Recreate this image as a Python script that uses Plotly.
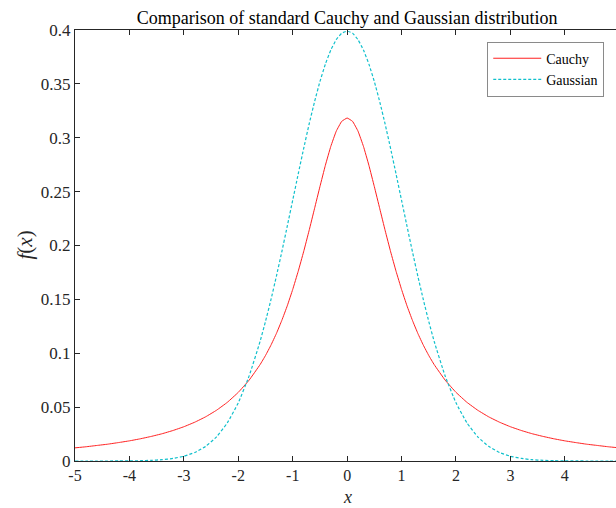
import plotly.graph_objects as go

x_vals = [-5.0, -4.8, -4.6, -4.4, -4.2, -4.0, -3.8, -3.6, -3.4, -3.2, -3.0,
          -2.8, -2.6, -2.4, -2.2, -2.0, -1.8,
          -1.6, -1.5, -1.4, -1.3, -1.2, -1.1, -1.0, -0.9, -0.8, -0.7, -0.6, -0.5,
          -0.4, -0.3, -0.2, -0.1, 0.0, 0.1, 0.2, 0.3, 0.4, 0.5, 0.6, 0.7,
          0.8, 0.9, 1.0, 1.1, 1.2, 1.3, 1.4, 1.5, 1.6,
          1.8, 2.0, 2.2, 2.4, 2.6, 2.8, 3.0,
          3.2, 3.4, 3.6, 3.8, 4.0, 4.2, 4.4, 4.6, 4.8, 5.0]

cauchy = [0.0122, 0.0132, 0.0144, 0.0156, 0.0171, 0.0187, 0.0206, 0.0228, 0.0253, 0.0283, 0.0318,
          0.0360, 0.0410, 0.0471, 0.0545, 0.0637, 0.0751,
          0.0894, 0.0979, 0.1075, 0.1183, 0.1305, 0.1440, 0.1592, 0.1759, 0.1941, 0.2136, 0.2341, 0.2546,
          0.2744, 0.2920, 0.3061, 0.3152, 0.3183, 0.3152, 0.3061, 0.2920, 0.2744, 0.2546, 0.2341, 0.2136,
          0.1941, 0.1759, 0.1592, 0.1440, 0.1305, 0.1183, 0.1075, 0.0979, 0.0894,
          0.0751, 0.0637, 0.0545, 0.0471, 0.0410, 0.0360, 0.0318,
          0.0283, 0.0253, 0.0228, 0.0206, 0.0187, 0.0171, 0.0156, 0.0144, 0.0132, 0.0122]

gaussian = [0.0000, 0.0000, 0.0000, 0.0000, 0.0001, 0.0001, 0.0003, 0.0006, 0.0012, 0.0024, 0.0044,
            0.0079, 0.0136, 0.0224, 0.0355, 0.0540, 0.0790,
            0.1109, 0.1295, 0.1497, 0.1714, 0.1942, 0.2179, 0.2420, 0.2661, 0.2897, 0.3123, 0.3332, 0.3521,
            0.3683, 0.3814, 0.3910, 0.3970, 0.3989, 0.3970, 0.3910, 0.3814, 0.3683, 0.3521, 0.3332, 0.3123,
            0.2897, 0.2661, 0.2420, 0.2179, 0.1942, 0.1714, 0.1497, 0.1295, 0.1109,
            0.0790, 0.0540, 0.0355, 0.0224, 0.0136, 0.0079, 0.0044,
            0.0024, 0.0012, 0.0006, 0.0003, 0.0001, 0.0001, 0.0000, 0.0000, 0.0000, 0.0000]

x_ticks = [-5, -4, -3, -2, -1, 0, 1, 2, 3, 4]
y_ticks = [0, 0.05, 0.1, 0.15, 0.2, 0.25, 0.3, 0.35, 0.4]
y_tick_text = ["0", "0.05", "0.1", "0.15", "0.2", "0.25", "0.3", "0.35", "0.4"]

FONT = "Times New Roman"
INK = "#262626"

fig = go.Figure()
fig.add_trace(go.Scatter(x=x_vals, y=cauchy, mode="lines", name="Cauchy",
                         line=dict(color="#FF2020", width=1, shape="spline", smoothing=0.3)))
fig.add_trace(go.Scatter(x=x_vals, y=gaussian, mode="lines", name="Gaussian",
                         line=dict(color="#10C0CC", width=1.2, dash="3px,2px",
                                   shape="spline", smoothing=0.4)))

fig.update_layout(
    width=616, height=508,
    margin=dict(l=75, r=0, t=30, b=47, autoexpand=False),
    plot_bgcolor="white", paper_bgcolor="white",
    font=dict(family=FONT, size=16, color=INK),
    title=dict(text="Comparison of standard Cauchy and Gaussian distribution",
               x=0.503, xref="paper", xanchor="center",
               y=1 - 18 / 508, yref="container", yanchor="middle",
               font=dict(family=FONT, size=18, color="#000000")),
    showlegend=True,
    legend=dict(x=0.762, y=0.973, xanchor="left", yanchor="top",
                bgcolor="white", bordercolor="#8a8a8a", borderwidth=1,
                font=dict(family=FONT, size=14, color="#000000"),
                tracegroupgap=0, itemwidth=48),
    hovermode=False,
    annotations=[
        dict(text="<i>x</i>", xref="paper", yref="paper", x=0.503, y=0,
             xanchor="center", yanchor="middle", yshift=-36, borderpad=0,
             showarrow=False, font=dict(family=FONT, size=18, color=INK)),
        dict(text="<i>f</i>(<i>x</i>)", xref="paper", yref="paper", x=0, y=0.5,
             xanchor="center", yanchor="middle", xshift=-51, textangle=-90,
             showarrow=False, font=dict(family=FONT, size=21, color=INK)),
    ],
)

fig.update_xaxes(
    range=[-5, 4.94], tickvals=x_ticks, ticktext=[str(v) for v in x_ticks],
    showgrid=False, zeroline=False, automargin=False,
    showline=True, linecolor=INK, linewidth=1, mirror="ticks",
    ticks="inside", ticklen=5, tickcolor=INK,
    tickfont=dict(family=FONT, size=16, color=INK),
)
fig.update_yaxes(
    range=[0, 0.4], tickvals=y_ticks, ticktext=y_tick_text,
    showgrid=False, zeroline=False, automargin=False,
    showline=True, linecolor=INK, linewidth=1, mirror=False,
    ticks="inside", ticklen=5, tickcolor=INK,
    tickfont=dict(family=FONT, size=17, color=INK),
)

fig.write_html("out.html")
